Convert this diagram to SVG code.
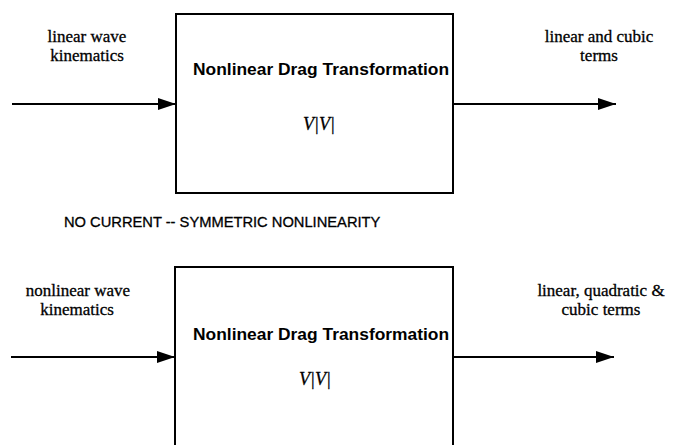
<svg xmlns="http://www.w3.org/2000/svg" width="673" height="445" viewBox="0 0 673 445">
<defs>
<marker id="ah" markerWidth="18" markerHeight="12" refX="18" refY="6" orient="auto" markerUnits="userSpaceOnUse">
<path d="M0,0 L18,6 L0,12 Z" fill="#000"/>
</marker>
<style>
.box{fill:#fff;stroke:#000;stroke-width:2}
.lbl{font-family:"Liberation Serif","Times New Roman",serif;font-size:17px;fill:#000;stroke:#000;stroke-width:0.3;text-anchor:middle}
.ttl{font-family:"Liberation Sans",Arial,sans-serif;font-size:17.4px;font-weight:bold;fill:#000}
.fx{font-family:"Liberation Serif","Times New Roman",serif;font-size:18px;font-style:italic;fill:#000;stroke:#000;stroke-width:0.3;text-anchor:middle}
.cap{font-family:"Liberation Sans",Arial,sans-serif;font-size:14.7px;fill:#000;stroke:#000;stroke-width:0.3}
.con{stroke:#000;stroke-width:2;fill:none;marker-end:url(#ah)}
</style>
</defs>
<rect width="673" height="445" fill="#fff"/>
<g id="top-box">
<rect class="box" x="176" y="14" width="277" height="179"/>
<text class="ttl" x="193" y="75">Nonlinear Drag Transformation</text>
<text class="fx" x="319" y="130">V|V|</text>
</g>
<g id="top-input">
<text class="lbl" x="87" y="42">linear wave</text>
<text class="lbl" x="87" y="61">kinematics</text>
</g>
<g id="top-output">
<text class="lbl" x="599" y="42">linear and cubic</text>
<text class="lbl" x="599" y="61">terms</text>
</g>
<g id="caption">
<text class="cap" x="64" y="227">NO CURRENT -- SYMMETRIC NONLINEARITY</text>
</g>
<g id="bottom-box">
<rect class="box" x="175" y="267" width="278" height="190"/>
<text class="ttl" x="193" y="340">Nonlinear Drag Transformation</text>
<text class="fx" x="315" y="385">V|V|</text>
</g>
<g id="bottom-input">
<text class="lbl" x="78" y="296">nonlinear wave</text>
<text class="lbl" x="77" y="315">kinematics</text>
</g>
<g id="bottom-output">
<text class="lbl" x="601" y="296">linear, quadratic &amp;</text>
<text class="lbl" x="601" y="315">cubic terms</text>
</g>
<g id="connectors">
<line class="con" x1="12" y1="104" x2="176" y2="104"/>
<line class="con" x1="454" y1="104" x2="616" y2="104"/>
<line class="con" x1="11" y1="357" x2="175" y2="357"/>
<line class="con" x1="454" y1="357" x2="614" y2="357"/>
</g>
</svg>
